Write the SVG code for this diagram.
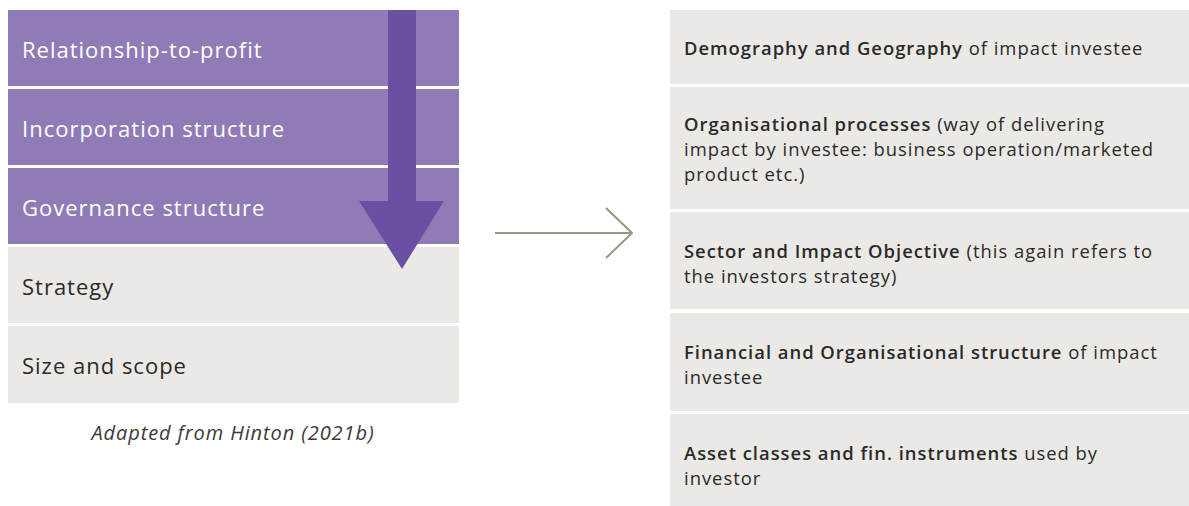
<svg xmlns="http://www.w3.org/2000/svg" width="1189" height="506" viewBox="0 0 1189 506">
  <defs>
    <style>
      .purple { fill: #8f7bb6; }
      .grey { fill: #ebe9e6; }
      .lbl { font-family: "Open Sans", Lato, sans-serif; font-size: 22px; letter-spacing: 1px; }
      .lbl-w { fill: #ffffff; }
      .lbl-d { fill: #2a2a2a; }
      .rt { font-family: "Open Sans", Lato, sans-serif; font-size: 18.4px; letter-spacing: 1px; fill: #2a2a2a; }
      .b { font-weight: 600; }
      .cap { font-family: "Open Sans", Lato, sans-serif; font-size: 20px; font-style: italic; letter-spacing: 0.9px; fill: #3a3a3a; }
      .conn { fill: none; stroke: #9b9484; stroke-width: 2; }
    </style>
  </defs>
  <rect width="1189" height="506" fill="#ffffff"/>

  <!-- Left stack -->
  <g id="relationship-to-profit">
    <rect class="purple" x="8" y="10" width="451" height="76"/>
    <text class="lbl lbl-w" x="22" y="58">Relationship-to-profit</text>
  </g>
  <g id="incorporation-structure">
    <rect class="purple" x="8" y="89" width="451" height="76"/>
    <text class="lbl lbl-w" x="22" y="137">Incorporation structure</text>
  </g>
  <g id="governance-structure">
    <rect class="purple" x="8" y="168" width="451" height="76"/>
    <text class="lbl lbl-w" x="22" y="216">Governance structure</text>
  </g>
  <g id="strategy">
    <rect class="grey" x="8" y="247" width="451" height="76"/>
    <text class="lbl lbl-d" x="22" y="295">Strategy</text>
  </g>
  <g id="size-and-scope">
    <rect class="grey" x="8" y="326" width="451" height="77"/>
    <text class="lbl lbl-d" x="22" y="374">Size and scope</text>
  </g>

  <!-- Downward emphasis arrow over the stack -->
  <g id="down-arrow">
    <polygon fill="#6a4fa3" points="388,10 416,10 416,201 444,201 402,269 359,201 388,201"/>
  </g>

  <text class="cap" x="233" y="440" text-anchor="middle">Adapted from Hinton (2021b)</text>

  <!-- Connectors -->
  <g id="connectors">
    <line class="conn" x1="495" y1="233" x2="632" y2="233"/>
    <polyline class="conn" points="606,208 632,233 606,258"/>
  </g>

  <!-- Right stack -->
  <g id="demography">
    <rect class="grey" x="670" y="10" width="519" height="74"/>
    <text class="rt" x="684" y="55"><tspan class="b">Demography and Geography</tspan> of impact investee</text>
  </g>
  <g id="organisational-processes">
    <rect class="grey" x="670" y="87" width="519" height="122"/>
    <text class="rt" x="684" y="130.5"><tspan class="b">Organisational processes</tspan> (way of delivering<tspan x="684" dy="25.2">impact by investee: business operation/marketed</tspan><tspan x="684" dy="25.2">product etc.)</tspan></text>
  </g>
  <g id="sector-impact">
    <rect class="grey" x="670" y="212" width="519" height="97"/>
    <text class="rt" x="684" y="257.5"><tspan class="b">Sector and Impact Objective</tspan> (this again refers to<tspan x="684" dy="25.2">the investors strategy)</tspan></text>
  </g>
  <g id="financial-structure">
    <rect class="grey" x="670" y="313" width="519" height="98"/>
    <text class="rt" x="684" y="358.5"><tspan class="b">Financial and Organisational structure</tspan> of impact<tspan x="684" dy="25.2">investee</tspan></text>
  </g>
  <g id="asset-classes">
    <rect class="grey" x="670" y="414" width="519" height="92"/>
    <text class="rt" x="684" y="459.5"><tspan class="b">Asset classes and fin. instruments</tspan> used by<tspan x="684" dy="25.2">investor</tspan></text>
  </g>
</svg>
